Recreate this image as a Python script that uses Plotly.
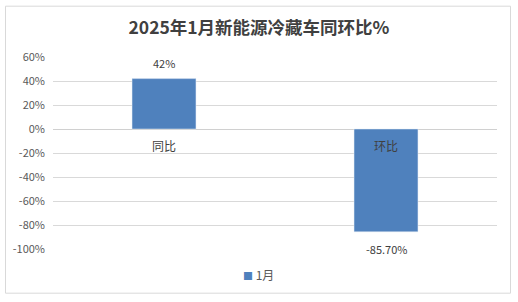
import plotly.graph_objects as go

categories = ["同比", "环比"]
values = [42.0, -85.7]
value_labels = ["42%", "-85.70%"]
tick_vals = [-100, -80, -60, -40, -20, 0, 20, 40, 60]
tick_text = ["-100%", "-80%", "-60%", "-40%", "-20%", "0%", "20%", "40%", "60%"]
series_name = "1月"
title = "2025年1月新能源冷藏车同环比%"

FONT = "Noto Sans CJK SC, Lato, sans-serif"
BLUE = "#4f81bd"

fig = go.Figure()
fig.add_trace(go.Bar(x=categories, y=values, name=series_name, marker_color=BLUE,
                     width=0.288, showlegend=False))

# data labels
for c, v, t in zip(categories, values, value_labels):
    fig.add_annotation(x=c, y=v, text=t, showarrow=False,
                       yshift=16 if v > 0 else -17,
                       font=dict(size=11, color="#404040", family=FONT))
    # category labels next to zero line
    fig.add_annotation(x=c, y=0, text=c, showarrow=False, yshift=-16,
                       font=dict(size=12, color="#404040", family=FONT))

# legend (small square + series name)
fig.add_annotation(xref="paper", yref="paper", x=(241 - 53) / 444, xanchor="left",
                   y=(249.3 - 275) / 192, yanchor="middle", showarrow=False,
                   text=f"<span style='color:{BLUE};font-size:10px'>■</span> {series_name}",
                   font=dict(size=12, color="#595959", family=FONT))

fig.update_layout(
    width=518, height=302,
    margin=dict(l=53, r=21, t=57, b=53),
    paper_bgcolor="white", plot_bgcolor="white",
    showlegend=False,
    title=dict(text=title, x=0.5, xanchor="center", y=1 - 28 / 302, yanchor="middle",
               font=dict(size=17.5, color="#404040", family=FONT, weight="bold")),
    xaxis=dict(showticklabels=False, showgrid=False, zeroline=False, showline=False),
    yaxis=dict(range=[-100, 60], tickvals=tick_vals, ticktext=tick_text,
               showgrid=True, gridcolor="#d9d9d9", gridwidth=1,
               zeroline=True, zerolinecolor="#d0d0d0", zerolinewidth=1,
               tickfont=dict(size=11, color="#595959", family=FONT),
               ticks="", ticklabelstandoff=7),
    bargap=0.7,
    shapes=[dict(type="rect", xref="paper", yref="paper",
                 x0=(5.5 - 53) / 444, x1=(510.5 - 53) / 444,
                 y0=(249.3 - 293.5) / 192, y1=(249.3 - 6.5) / 192,
                 line=dict(color="#d9d9d9", width=1), fillcolor="rgba(0,0,0,0)",
                 layer="below")],
)

fig.write_html("out.html")
